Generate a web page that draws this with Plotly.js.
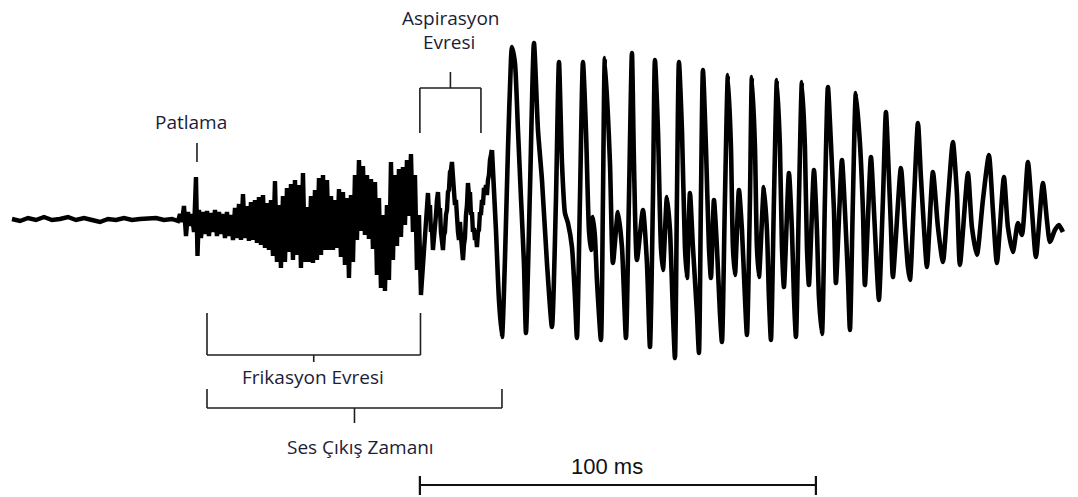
<!DOCTYPE html>
<html>
<head>
<meta charset="utf-8">
<script src="https://cdn.plot.ly/plotly-3.0.1.min.js"></script>
<style>html,body{margin:0;padding:0;background:#fff;}#chart{width:1078px;height:497px;}</style>
</head>
<body>
<div id="chart"></div>
<script>
// ---- waveform data (time in ms, amplitude in arbitrary units) ----
const silenceTime = [0,2.02,4.04,6.06,8.08,10.1,12.12,14.14,16.16,18.18,20.2,22.22,24.24,26.26,28.28,30.3,32.32,34.34,36.36,38.38,40.4,41.92];
const silenceAmp  = [-1,-3,0,-2,1,-2,-1,1,-2,0,-2,-4,-1,-2,0,-2,-1,-1,0,-2,-1,-3];

const fricationTime = [42.42,42.93,43.43,43.94,44.44,44.95,45.45,45.96,46.46,46.84,47.22,47.72,48.23,48.73,49.24,49.74,50.25,50.75,51.26,51.76,52.27,52.77,53.28,53.78,54.29,54.79,55.30,55.80,56.31,56.81,57.32,57.82,58.33,58.83,59.34,59.84,60.35,60.85,61.36,61.86,62.37,62.87,63.38,63.88,64.39,64.89,65.40,65.90,66.41,66.91,67.42,67.92,68.43,68.93,69.44,69.94,70.45,70.95,71.46,71.96,72.47,72.97,73.48,73.98,74.49,74.99,75.50,76.00,76.51,77.01,77.52,78.02,78.53,79.03,
79.54,80.04,80.55,81.05,81.56,82.06,82.57,83.07,83.58,84.08,84.59,85.09,85.60,86.10,86.61,87.11,87.62,88.12,88.63,89.13,89.64,90.14,90.65,91.15,91.66,92.16,92.67,93.17,93.68,94.18,94.69,95.19,95.70,96.20,96.71,97.21,97.72,98.22,98.73,99.23,99.74,100.24,100.75,101.25,101.76,102.26,102.77];
const fricationAmp = [4,-4,12,-18,6,-8,4,-14,41,-38,8,-20,6,-16,7,-18,5,-14,8,-18,6,-16,4,-20,6,-18,3,-22,10,-20,14,-22,24,-20,12,-23,16,-22,18,-25,21,-27,23,-30,15,-32,18,-38,37,-44,13,-50,22,-44,30,-34,34,-42,38,-37,33,-50,45,-44,11,-44,22,-45,28,-42,40,-37,43,-32,
38,-32,22,-32,18,-30,29,-39,26,-47,20,-60,23,-44,43,-22,58,-13,52,-17,43,-21,39,-31,36,-57,20,-70,3,-73,13,-62,56,-42,43,-28,49,-19,51,-7,58,2,64,-14,43,-52,3];

const aspirationTime = [103.27,103.53,103.78,104.03,104.28,104.54,104.79,105.04,105.29,105.55,105.80,106.05,106.30,106.56,106.81,107.06,107.31,107.57,107.82,108.07,108.32,108.58,108.83,109.08,109.33,109.59,109.84,110.09,110.34,110.60,110.85,111.10,111.35,111.61,111.86,112.11,112.36,112.62,112.87,113.12,113.37,113.63,113.88,114.13,114.38,114.64,114.89,115.14,115.39,115.65,115.90,116.15,116.40,116.66,116.91,117.16,117.41,117.67,117.92,118.17,118.42,118.68,118.93,119.18,119.43,119.69,119.94,120.19,120.44,120.70];
const aspirationAmp  = [-77,-62,-52,-32,-20,-7,18,25,6,13,-14,-10,-32,-22,-7,3,18,26,6,10,-14,-22,-32,-17,-14,3,8,26,28,46,48,56,38,36,13,18,-7,-14,-22,-4,-18,-27,-42,-27,-20,3,13,35,23,26,3,6,-14,-10,-22,-17,-29,-14,-12,6,3,18,13,30,26,33,23,38,43,58];

const voicingTime = [121.20,122.21,122.97,123.73,124.48,125.24,126.00,126.25,127.01,127.77,128.52,129.28,129.79,130.80,131.81,132.82,133.83,135.09,136.35,137.36,138.12,138.88,139.63,140.39,141.40,142.16,142.66,143.42,144.18,144.94,145.69,146.20,146.70,147.21,147.71,148.72,149.23,149.73,151.00,151.75,153.02,154.03,155.04,155.79,156.55,157.06,157.81,159.33,160.34,161.10,161.85,162.36,163.12,163.87,164.38,165.39,166.15,166.90,167.41,167.91,168.42,169.18,169.93,170.44,171.20,171.95,172.96,173.47,173.97,174.48,175.24,175.99,176.50,177.26,178.01,178.77,179.28,180.03,180.79,181.55,182.05,182.56,183.57,184.33,185.08,185.59,186.35,186.85,187.61,188.11,188.62,189.88,190.64,191.14,191.65,192.41,193.16,193.92,194.43,194.93,196.19,196.95,197.46,197.96,198.72,199.48,200.23,200.74,201.24,202.51,203.26,203.77,204.53,205.28,206.04,206.80,207.56,208.06,209.58,210.33,211.09,211.60,212.35,213.11,214.12,214.88,215.38,216.90,217.66,218.41,218.92,219.93,220.69,221.44,221.95,222.45,224.47,225.48,226.24,226.75,227.76,228.77,229.52,230.28,231.04,232.55,233.82,235.08,236.34,237.60,238.61,239.37,241.39,242.40,243.66,245.18,246.69,247.70,248.71,250.48,251.49,252.75,254.02,255.03,256.54,257.55,258.56,260.33,261.34,262.10,263.36,264.37,265.38];
const voicingAmp = [68,-12,-82,-119,-42,68,158,171,155,88,21,-45,-115,28,175,88,38,-45,-109,18,156,55,5,-5,-29,-79,-120,18,156,88,-12,-32,1,-19,-62,-122,18,160,55,-45,6,-29,-120,18,165,55,-42,8,-45,-129,18,158,88,-29,-52,21,-12,-95,-140,18,156,88,-29,-60,25,-29,-95,-135,18,148,71,-29,-60,18,-29,-95,-124,18,143,71,-29,-57,28,-12,-79,-117,18,141,71,-29,-59,31,-12,-79,-122,18,138,71,-29,-69,45,-12,-79,-119,18,136,71,-29,-67,48,-12,-79,-116,18,131,75,8,-65,58,8,-59,-112,18,125,75,8,-67,61,8,-52,-82,18,106,41,-9,-59,50,-9,-49,-62,18,95,41,-9,-49,46,-9,-44,18,76,25,-47,45,-9,-37,18,63,8,-45,41,-9,-34,-5,-17,56,8,-39,35,-2,-24,-12,-7,-14];

// ---- phase boundaries (ms) ----
const burstTime = 46.71;
const fricationStart = 49.24, fricationEnd = 103.15;
const aspirationStart = 103.0, aspirationEnd = 118.42;
const voiceOnset = 123.73;
const scaleStart = 103.0, scaleLength = 100;
const phaseLabels = ["Patlama", "Aspirasyon", "Evresi", "Frikasyon Evresi", "Ses Çıkış Zamanı", "100 ms"];

const noiseT = silenceTime.concat(fricationTime, aspirationTime, [voicingTime[0]]);
const noiseA = silenceAmp.concat(fricationAmp, aspirationAmp, [voicingAmp[0]]);

const traces = [
  {x: noiseT, y: noiseA, mode: 'lines', line: {color: '#000', width: 4.4}, hoverinfo: 'skip'},
  {x: voicingTime, y: voicingAmp, mode: 'lines', line: {color: '#000', width: 4.6, shape: 'spline', smoothing: 0.6}, hoverinfo: 'skip'}
];

const ink = '#1f1f1f';
function seg(x0, y0, x1, y1, w, c) {
  return {type: 'line', xref: 'x', yref: 'y', x0: x0, y0: y0, x1: x1, y1: y1, line: {color: c || ink, width: w || 1.6}};
}
const shapes = [
  seg(burstTime, 75, burstTime, 56),
  seg((aspirationStart + aspirationEnd) / 2, 146, (aspirationStart + aspirationEnd) / 2, 130),
  seg(aspirationStart, 130, aspirationEnd, 130),
  seg(aspirationStart, 130, aspirationStart, 85),
  seg(aspirationEnd, 130, aspirationEnd, 85),
  seg(fricationStart, -95, fricationStart, -137),
  seg(fricationEnd, -95, fricationEnd, -137),
  seg(fricationStart, -137, fricationEnd, -137),
  seg((fricationStart + fricationEnd) / 2, -137, (fricationStart + fricationEnd) / 2, -144),
  seg(fricationStart, -171, fricationStart, -190),
  seg(voiceOnset, -171, voiceOnset, -190),
  seg(fricationStart, -190, voiceOnset, -190),
  seg((fricationStart + voiceOnset) / 2, -190, (fricationStart + voiceOnset) / 2, -205),
  seg(scaleStart, -267, scaleStart + scaleLength, -267, 2, '#111'),
  seg(scaleStart, -258, scaleStart, -277, 2.2, '#111'),
  seg(scaleStart + scaleLength, -258, scaleStart + scaleLength, -277, 2.2, '#111')
];

const labFont = {family: '"Open Sans", sans-serif', size: 19, color: '#1c1c38'};
function lab(text, x, y, font) {
  return {text: text, x: x, y: y, xref: 'x', yref: 'y', showarrow: false, xanchor: 'center', yanchor: 'middle', font: font || labFont};
}
const annotations = [
  lab(phaseLabels[0], 45.2, 96),
  lab(phaseLabels[1], 110.8, 200),
  lab(phaseLabels[2], 110.3, 176),
  lab(phaseLabels[3], 76.0, -159),
  lab(phaseLabels[4], 87.9, -229),
  lab(phaseLabels[5], 150.2, -248, {family: '"Liberation Sans", Arial, sans-serif', size: 22, color: '#111'})
];

const layout = {
  width: 1078, height: 497,
  margin: {l: 0, r: 0, t: 0, b: 0, pad: 0},
  paper_bgcolor: '#fff', plot_bgcolor: '#fff',
  showlegend: false,
  xaxis: {range: [-3.03, 269.19], visible: false, fixedrange: true},
  yaxis: {range: [-279, 218], visible: false, fixedrange: true},
  shapes: shapes,
  annotations: annotations
};
Plotly.newPlot('chart', traces, layout, {staticPlot: true, displayModeBar: false});
</script>
</body>
</html>
